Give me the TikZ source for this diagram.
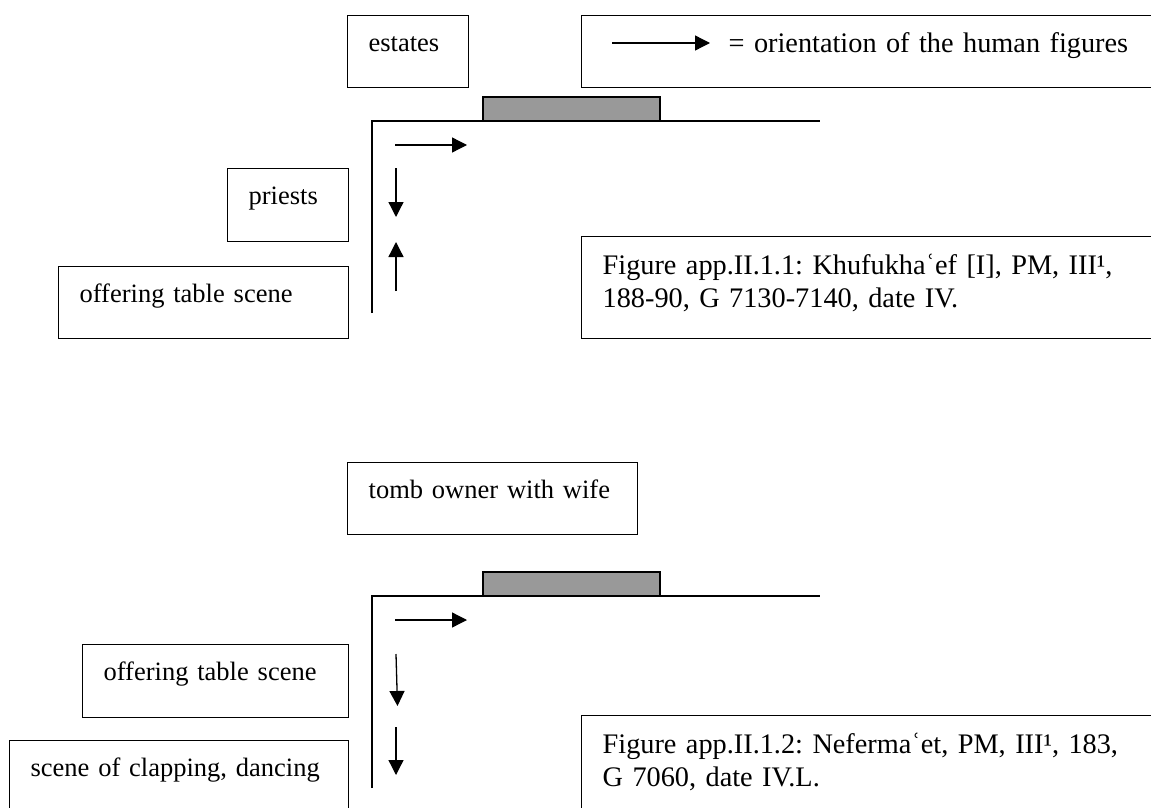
\documentclass[tikz,border=0pt]{standalone}
\usepackage{fontspec}
\setmainfont{Liberation Serif}
\usetikzlibrary{arrows.meta,calc}

\definecolor{doorgray}{RGB}{153,153,153}

\tikzset{
  lbl/.style={draw=black, line width=1.3pt, rectangle, anchor=north west,
    inner xsep=21pt, inner ysep=0pt, align=left,
    text height=36pt, font=\fontsize{26.5}{29}\selectfont\frenchspacing},
  capbox/.style={lbl, text height=38pt,
    font=\fontsize{28.3}{33}\selectfont\frenchspacing},
  wall/.style={line width=1.3pt},
  door/.style={draw=black, line width=1.3pt, fill=doorgray},
  dir/.style={line width=1.3pt, -{Triangle[length=15pt,width=15pt]}},
}

\begin{document}
\begin{tikzpicture}[x=1pt,y=1pt]
\useasboundingbox (0,0) rectangle (1151,-808);
\clip (0,0) rectangle (1151,-808);

% ---------- Khufukha'ef ----------
\node[lbl, text width=79pt, text depth=36pt] (estates) at (347,-15) {estates};
\node[capbox, text width=558pt, text height=37pt, text depth=35pt] (legend) at (581,-15)
  {\hspace*{126pt}= orientation of the human figures};
\coordinate (legA) at ($(legend.north west)+(31,-28)$);
\coordinate (legB) at ($(legend.north west)+(129,-28)$);
\draw[dir] (legA) -- (legB);

\draw[door] (483,-97) rectangle (660,-121);
\coordinate (w1a) at (372,-313);
\coordinate (w1b) at (372,-121);
\coordinate (w1c) at (820,-121);
\draw[wall] (w1a) -- (w1b) -- (w1c);

\coordinate (r1a) at (395,-145); \coordinate (r1b) at (467,-145);
\coordinate (d1a) at (396,-168); \coordinate (d1b) at (396,-217);
\coordinate (u1a) at (396,-291); \coordinate (u1b) at (396,-242);
\draw[dir] (r1a) -- (r1b);
\draw[dir] (d1a) -- (d1b);
\draw[dir] (u1a) -- (u1b);

\node[lbl, text width=79pt, text depth=37pt] (priests) at (227,-168) {priests};
\node[lbl, text width=248pt, text depth=36pt] (offer1) at (58,-266) {offering table scene};
\node[capbox, text width=558pt, text depth=64pt] (cap1) at (581,-236)
  {Figure app.II.1.1: Khufukhaʿef [I], PM, III¹,\\188-90, G 7130-7140, date IV.};

% ---------- Neferma'et ----------
\node[lbl, text width=248pt, text depth=36pt] (tomb) at (347,-462) {tomb owner with wife};

\draw[door] (483,-572) rectangle (660,-596);
\coordinate (w2a) at (372,-788);
\coordinate (w2b) at (372,-596);
\coordinate (w2c) at (820,-596);
\draw[wall] (w2a) -- (w2b) -- (w2c);

\coordinate (r2a) at (395,-620); \coordinate (r2b) at (467,-620);
\coordinate (d2a) at (396,-654); \coordinate (d2b) at (397.5,-706);
\coordinate (d3a) at (396,-727); \coordinate (d3b) at (396,-775);
\draw[dir] (r2a) -- (r2b);
\draw[dir] (d2a) -- (d2b);
\draw[dir] (d3a) -- (d3b);

\node[lbl, text width=224pt, text depth=37pt] (offer2) at (82,-644) {offering table scene};
\node[lbl, text width=297pt, text depth=64pt] (scene) at (9,-740) {scene of clapping, dancing};
\node[capbox, text width=558pt, text depth=80pt] (cap2) at (581,-715)
  {Figure app.II.1.2: Nefermaʿet, PM, III¹, 183,\\G 7060, date IV.L.};
\end{tikzpicture}
\end{document}
